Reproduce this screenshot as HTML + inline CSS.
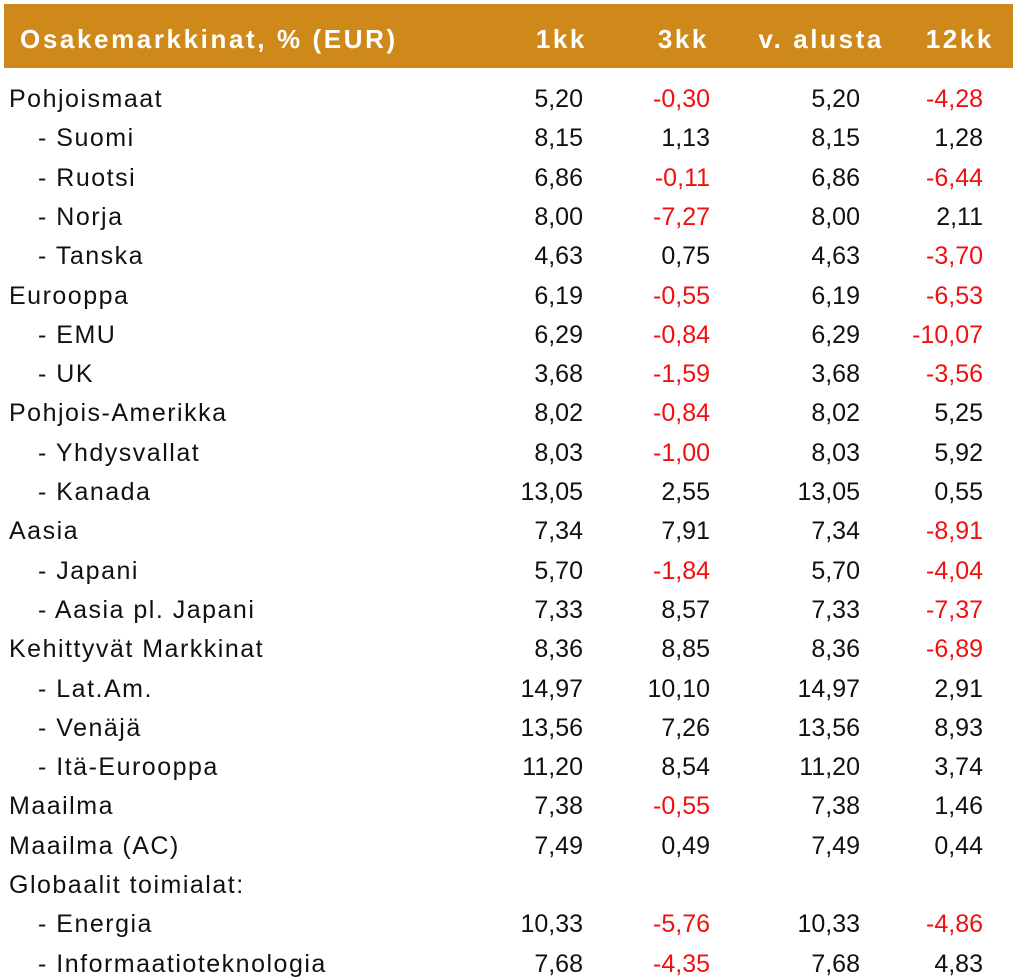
<!DOCTYPE html>
<html><head><meta charset="utf-8"><style>
body{margin:0;width:1019px;height:973px;overflow:hidden;background:#fff;font-family:"Liberation Sans",sans-serif;}
#hdr{position:absolute;left:4px;top:4px;width:1009px;height:64px;background:#CF891B;}
.h{position:absolute;top:20px;color:#fff;font-weight:bold;font-size:26px;line-height:30px;white-space:nowrap;letter-spacing:2.6px;}
.c{position:absolute;font-size:25px;line-height:30px;white-space:nowrap;color:#111;}
.lab{letter-spacing:1.5px;}
.r{text-align:right;width:160px;}
.neg{color:#f01010;}
</style></head><body>
<div id="hdr">
<div class="h" style="left:16px">Osakemarkkinat, % (EUR)</div>
<div class="h" style="left:479px;width:104px;text-align:right">1kk</div>
<div class="h" style="left:601px;width:104px;text-align:right">3kk</div>
<div class="h" style="left:676px;width:204px;text-align:right">v. alusta</div>
<div class="h" style="left:880px;width:110px;text-align:right">12kk</div>
</div>
<div id="body"></div>
<script>
const labels=["Pohjoismaat"," - Suomi"," - Ruotsi"," - Norja"," - Tanska","Eurooppa"," - EMU"," - UK","Pohjois-Amerikka"," - Yhdysvallat"," - Kanada","Aasia"," - Japani"," - Aasia pl. Japani","Kehittyvät Markkinat"," - Lat.Am."," - Venäjä"," - Itä-Eurooppa","Maailma","Maailma (AC)","Globaalit toimialat:"," - Energia"," - Informaatioteknologia"];
const m1=["5,20","8,15","6,86","8,00","4,63","6,19","6,29","3,68","8,02","8,03","13,05","7,34","5,70","7,33","8,36","14,97","13,56","11,20","7,38","7,49","","10,33","7,68"];
const m3=["-0,30","1,13","-0,11","-7,27","0,75","-0,55","-0,84","-1,59","-0,84","-1,00","2,55","7,91","-1,84","8,57","8,85","10,10","7,26","8,54","-0,55","0,49","","-5,76","-4,35"];
const ytd=["5,20","8,15","6,86","8,00","4,63","6,19","6,29","3,68","8,02","8,03","13,05","7,34","5,70","7,33","8,36","14,97","13,56","11,20","7,38","7,49","","10,33","7,68"];
const m12=["-4,28","1,28","-6,44","2,11","-3,70","-6,53","-10,07","-3,56","5,25","5,92","0,55","-8,91","-4,04","-7,37","-6,89","2,91","8,93","3,74","1,46","0,44","","-4,86","4,83"];
const body=document.getElementById('body');
const rights=[583,710,860,983];
const cols=[m1,m3,ytd,m12];
const colNames=['value-1kk','value-3kk','value-ytd','value-12kk'];
labels.forEach((lab,i)=>{
  const y=99+i*39.3-15;
  const sub=lab.startsWith(' ');
  const d=document.createElement('div');
  
  
  d.className='c lab';d.style.left=(sub?38:9)+'px';d.style.top=y+'px';
  d.textContent=lab.trim();
  body.appendChild(d);
  cols.forEach((arr,j)=>{
    const v=arr[i];if(!v)return;
    const e=document.createElement('div');
    
    
    e.className='c r'+(v.startsWith('-')?' neg':'');
    e.style.left=(rights[j]-160)+'px';e.style.top=y+'px';
    e.textContent=v;body.appendChild(e);
  });
});
</script>
</body></html>
